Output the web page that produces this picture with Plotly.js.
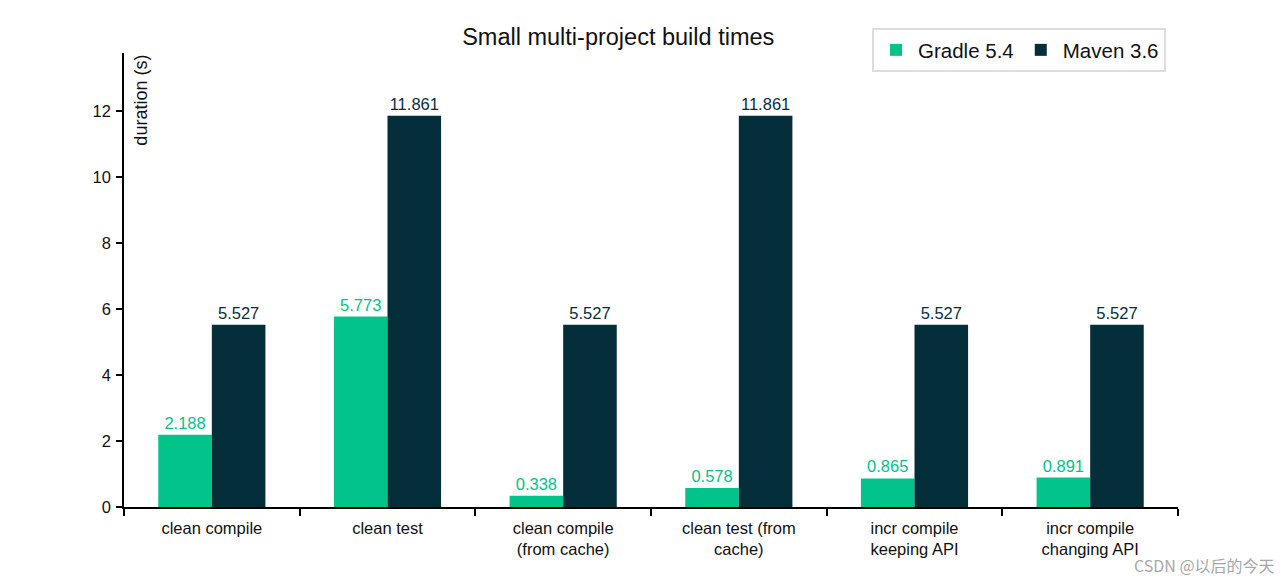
<!DOCTYPE html>
<html>
<head>
<meta charset="utf-8">
<script src="https://cdn.plot.ly/plotly-3.0.1.min.js"></script>
<style>html,body{margin:0;padding:0;background:#fff;}#chart{width:1280px;height:578px;}</style>
</head>
<body>
<div id="chart"></div>
<script>
const categories = ["clean compile", "clean test", "clean compile<br>(from cache)", "clean test (from<br>cache)", "incr compile<br>keeping API", "incr compile<br>changing API"];
const gradleValues = [2.188, 5.773, 0.338, 0.578, 0.865, 0.891];
const mavenValues = [5.527, 11.861, 5.527, 11.861, 5.527, 5.527];
const seriesNames = ["Gradle 5.4", "Maven 3.6"];
const gradleColor = "#02C389";
const mavenColor = "#052E3B";
const font = "Liberation Sans, Arial, Helvetica, sans-serif";

const traces = [
  {type: "bar", name: seriesNames[0], x: categories, y: gradleValues, marker: {color: gradleColor},
   text: gradleValues.map(v => v.toFixed(3)), textposition: "outside", cliponaxis: false,
   textfont: {color: gradleColor, size: 16.5, family: font}, hoverinfo: "x+y"},
  {type: "bar", name: seriesNames[1], x: categories, y: mavenValues, marker: {color: mavenColor},
   text: mavenValues.map(v => v.toFixed(3)), textposition: "outside", cliponaxis: false,
   textfont: {color: mavenColor, size: 16.5, family: font}, hoverinfo: "x+y"}
];

const layout = {
  width: 1280, height: 578,
  margin: {l: 124, r: 102, t: 53, b: 71},
  paper_bgcolor: "#fff", plot_bgcolor: "#fff",
  font: {family: font, color: "#111", size: 16},
  barmode: "group", bargap: 0.39, bargroupgap: 0,
  title: {text: "Small multi-project build times", x: 0.483, xanchor: "center", y: 1 - 37/578, yanchor: "middle",
          font: {size: 23.5, family: font, color: "#111"}},
  xaxis: {type: "category", showline: true, linecolor: "#000", linewidth: 1.5, ticks: "outside", ticklen: 7,
          tickcolor: "#000", tickwidth: 1.5, tickson: "boundaries", showgrid: false, zeroline: false,
          ticklabelstandoff: 5,
          tickfont: {size: 16.5, family: font, color: "#111"}},
  yaxis: {range: [0, 13.76], showline: true, linecolor: "#000", linewidth: 1.5, ticks: "outside", ticklen: 6,
          tickcolor: "#000", tickwidth: 1.5, showgrid: false, zeroline: false, dtick: 2, tick0: 0,
          ticklabelstandoff: 2,
          tickfont: {size: 16.5, family: font, color: "#111"}},
  legend: {orientation: "h", x: 0.7097, y: 1.055, xanchor: "left", yanchor: "top",
           bordercolor: "#ddd", borderwidth: 2, bgcolor: "#fff",
           font: {size: 20.5, family: font, color: "#111"}, itemwidth: 34,
           tracegroupgap: 0, entrywidth: 0},
  annotations: [
    {text: "duration (s)", textangle: -90, xref: "paper", yref: "paper", x: 0.0153, y: 1.0, xanchor: "center", yanchor: "top",
     showarrow: false, font: {size: 18, family: font, color: "#111"}},
    {text: "CSDN @以后的今天", xref: "paper", yref: "paper", x: (1276 - 124) / 1054, y: -(578 - 507) / 454,
     xanchor: "right", yanchor: "bottom", borderpad: 0,
     showarrow: false, font: {size: 16, family: "Noto Sans CJK SC, sans-serif", color: "#a8a8a8"}}
  ]
};

Plotly.newPlot("chart", traces, layout, {displayModeBar: false, responsive: false});
</script>
</body>
</html>
